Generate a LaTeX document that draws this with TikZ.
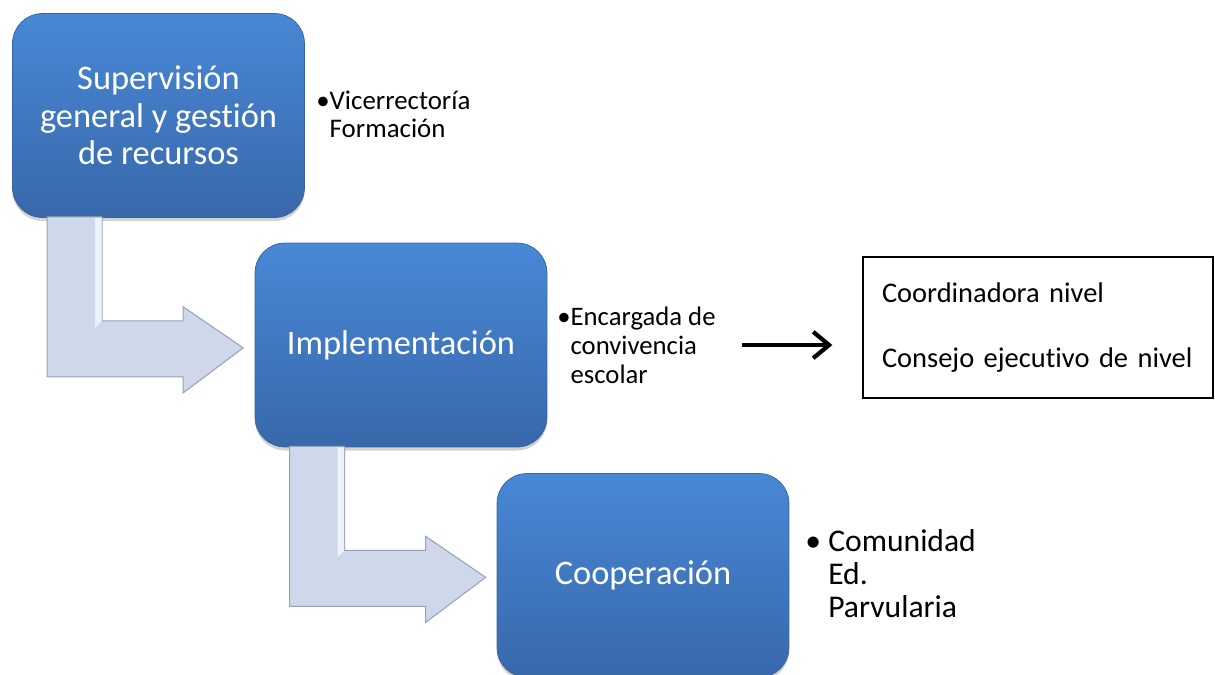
\documentclass[tikz,border=0pt]{standalone}
\usepackage{fontspec}
\setmainfont{Carlito}[Ligatures=NoCommon]
\usetikzlibrary{arrows.meta,shadows}
\definecolor{boxtop}{RGB}{72,136,214}
\definecolor{boxbottom}{RGB}{56,104,170}
\definecolor{boxedge}{RGB}{55,100,160}
\definecolor{bentfill}{RGB}{206,216,234}
\definecolor{bentedge}{RGB}{150,162,184}
\definecolor{bentlight}{RGB}{238,243,251}
\tikzset{
  stagebox/.style={rounded corners=17pt, minimum width=5.84cm, minimum height=4.08cm,
    draw=boxedge, top color=boxtop, bottom color=boxbottom, text=white, align=center,
    font=\fontsize{19.6}{21.3}\selectfont,
    drop shadow={shadow xshift=0pt, shadow yshift=-2pt, opacity=0.35}},
  note/.style={align=left, inner sep=0pt, anchor=west},
  bent/.style={fill=bentfill, draw=bentedge, line width=0.6pt},
  arrowline/.style={line width=2.2pt, -{Straight Barb[length=9pt,width=15pt,line width=2.4pt]}}
}
\newcommand{\bentarrow}[1]{
  \draw[bent, shift={(#1.south west)}] (35,-1) -- (35,159) -- (171,159) -- (171,175)
    -- (231,130) -- (171,89) -- (171,103) -- (90,103) -- (90,-1) -- cycle;
  \fill[bentlight, shift={(#1.south west)}] (83,0) -- (89.5,0) -- (89.5,103) -- (83,110) -- cycle;
}
\begin{document}
\begin{tikzpicture}[x=0.02cm, y=-0.02cm]
    \useasboundingbox (0,0) rectangle (1215,674);
    \node[stagebox] (sup) at (158.5,115.5) {Supervisión\\general y gestión\\de recursos};
    \node[stagebox] (imp) at (401,345) {Implementación};
    \node[stagebox] (coo) at (643,575.5) {Cooperación};
    \bentarrow{sup}
    \bentarrow{imp}
    \node[note, font=\fontsize{15.3}{16}\selectfont] (vic) at (316,114) {•Vicerrectoría\\\hphantom{•}Formación};
    \node[note, font=\fontsize{15.2}{16.5}\selectfont] (enc) at (557,345) {•Encargada de\\\hphantom{•}convivencia\\\hphantom{•}escolar};
    \node[note, font=\fontsize{18}{18.8}\selectfont] (com) at (805,574) {• Comunidad\\\hphantom{• }Ed.\\\hphantom{• }Parvularia};
    \node[draw, line width=0.8pt, minimum width=7cm, minimum height=2.82cm, text width=6.24cm,
      inner xsep=0.38cm, align=left, font=\fontsize{16.2}{19.5}\selectfont] (niv) at (1038,327.5)
      {Coordinadora nivel\\[17.5pt]Consejo ejecutivo de nivel};
    \draw[arrowline, shorten <=0.52cm, shorten >=0.6cm] (enc.east) -- (enc.east -| niv.west);
\end{tikzpicture}
\end{document}
